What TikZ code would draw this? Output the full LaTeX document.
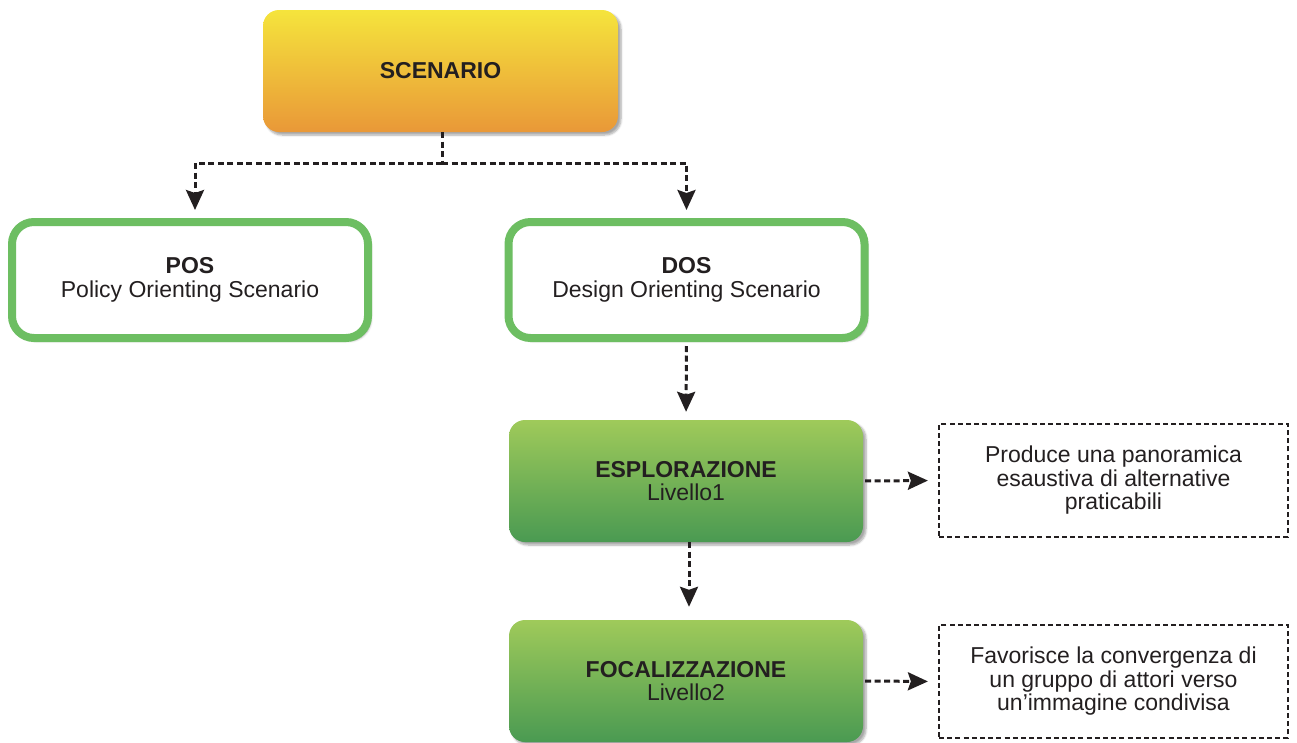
\documentclass[tikz,border=0pt]{standalone}
\usepackage{fontspec}
\setmainfont{Liberation Sans}
\usetikzlibrary{arrows.meta,shadows.blur}

\definecolor{txt}{HTML}{231F20}
\definecolor{yeltop}{HTML}{F5E43C}
\definecolor{yelbot}{HTML}{E99838}
\definecolor{grntop}{HTML}{9FCA5A}
\definecolor{grnbot}{HTML}{4A9A52}
\definecolor{grnline}{HTML}{6DBE62}

\tikzset{
  base/.style={align=center, text=txt, font=\fontsize{23}{23.5}\selectfont, inner sep=0pt},
  softshadow/.style={blur shadow={shadow xshift=3pt, shadow yshift=-3pt, shadow blur steps=6, shadow opacity=35}},
  headbox/.style={base, rounded corners=16, minimum width=355, minimum height=122,
    top color=yeltop, bottom color=yelbot, softshadow},
  outlinebox/.style={base, rounded corners=22, minimum width=356, minimum height=116,
    draw=grnline, line width=8, fill=white, softshadow},
  levelbox/.style={base, rounded corners=16, minimum width=354, minimum height=122,
    top color=grntop, bottom color=grnbot, softshadow},
  notebox/.style={base, draw=txt, line width=2.2, dash pattern=on 5 off 3.2,
    minimum width=349, minimum height=113},
  dashline/.style={draw=txt, line width=3, dash pattern=on 6 off 3.5},
  conn/.style={dashline, -{Stealth[length=20pt,width=18pt,inset=3pt]}},
}

\begin{document}
\begin{tikzpicture}[x=1pt,y=-1pt]
  \useasboundingbox (0,0) rectangle (1297,742);

  % main scenario
  \node[headbox] (scen) at (440.5,71) {\textbf{SCENARIO}};

  % two scenario families
  \node[outlinebox] (pos) at (190,280) {\textbf{POS}\\Policy Orienting Scenario};
  \node[outlinebox] (dos) at (686.5,280) {\textbf{DOS}\\Design Orienting Scenario};

  % levels of the design orienting scenario
  \node[levelbox] (esp) at (686,481) {\textbf{ESPLORAZIONE}\\Livello1};
  \node[levelbox] (foc) at (686,681) {\textbf{FOCALIZZAZIONE}\\Livello2};

  % descriptions
  \node[notebox] (espnote) at (1113.5,480.5) {Produce una panoramica\\esaustiva di alternative\\praticabili};
  \node[notebox] (focnote) at (1113.5,681.5) {Favorisce la convergenza di\\un gruppo di attori verso\\un’immagine condivisa};

  % connectors
  \coordinate (split) at (442,163);
  \draw[dashline] ([xshift=1.5]scen.south) -- (split);
  \draw[conn, shorten >=8] (split) -| ([xshift=5]pos.north);
  \draw[conn, shorten >=8] (split) -| (dos.north);
  \draw[conn, shorten <=4, shorten >=8] (dos.south) -- (esp.north);
  \draw[conn, shorten >=13] ([xshift=3]esp.south) -- ([xshift=3]foc.north);
  \draw[conn, shorten <=2, shorten >=10] (esp.east) -- (espnote.west);
  \draw[conn, shorten <=2, shorten >=10] (foc.east) -- (focnote.west);
\end{tikzpicture}
\end{document}
